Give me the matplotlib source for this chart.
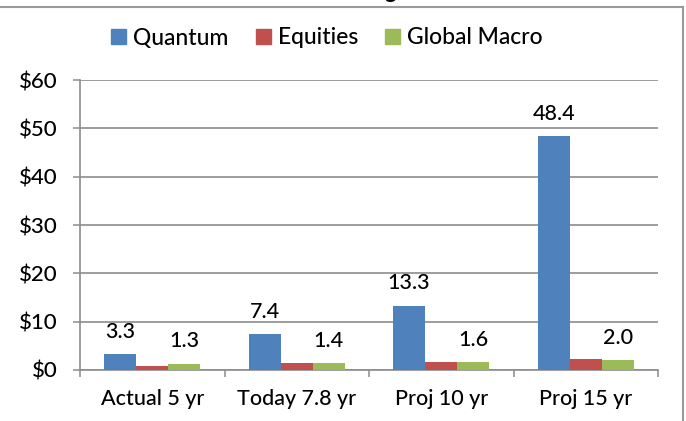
import matplotlib
matplotlib.use('Agg')
import matplotlib.pyplot as plt
from matplotlib.lines import Line2D
import numpy as np

plt.rcParams['font.family'] = ['Lato', 'DejaVu Sans']
plt.rcParams['font.weight'] = 'medium'

# values
categories = ['Actual 5 yr', 'Today 7.8 yr', 'Proj 10 yr', 'Proj 15 yr']
quantum = [3.3, 7.4, 13.3, 48.4]
equities = [0.9, 1.4, 1.7, 2.3]
global_macro = [1.3, 1.4, 1.6, 2.0]
series_names = ['Quantum', 'Equities', 'Global Macro']
colors = ['#4F81BD', '#C0504D', '#9BBB59']
y_ticks = [0, 10, 20, 30, 40, 50, 60]

fig = plt.figure(figsize=(6.86, 4.21), dpi=100)
ax = fig.add_axes([80 / 686, 1 - 370 / 421, 578 / 686, 290 / 421])

x = np.arange(len(categories))
w = 1 / 4.5
all_series = [quantum, equities, global_macro]
bars = []
for i, vals in enumerate(all_series):
    b = ax.bar(x + (i - 1) * w, vals, w, color=colors[i], zorder=3,
               label=series_names[i])
    bars.append(b)

# labels only on Quantum and Global Macro
for idx in (0, 2):
    for rect, v in zip(bars[idx], all_series[idx]):
        ax.annotate('%.1f' % v, (rect.get_x() + rect.get_width() / 2, v),
                    xytext=(0, 9), textcoords='offset points',
                    ha='center', va='bottom', fontsize=15.5, color='black')

ax.set_xlim(-0.5, len(categories) - 0.5)
ax.set_ylim(0, 60)
ax.set_yticks(y_ticks)
ax.set_yticklabels(['$%d' % t for t in y_ticks])
ax.yaxis.grid(True, color='#8c8c8c', linewidth=1.2, zorder=0)
ax.set_axisbelow(True)

ax.set_xticks(np.arange(len(categories) + 1) - 0.5)
ax.set_xticklabels([])
ax.set_xticks(x, minor=True)
ax.set_xticklabels(categories, minor=True)
ax.tick_params(axis='x', which='major', length=5, color='#8c8c8c', width=1.1)
ax.tick_params(axis='x', which='minor', length=0, pad=14, labelsize=15.5)
ax.tick_params(axis='y', length=5, color='#8c8c8c', width=1.1, pad=11,
               labelsize=16)

for s in ['top', 'right']:
    ax.spines[s].set_visible(False)
ax.spines['left'].set_color('#8c8c8c')
ax.spines['bottom'].set_color('#8c8c8c')
ax.spines['left'].set_linewidth(1.2)
ax.spines['bottom'].set_linewidth(1.2)

handles = [plt.Rectangle((0, 0), 1, 1, color=c) for c in colors]
fig.legend(handles, series_names, loc='center', ncol=3,
           bbox_to_anchor=(327 / 686, 1 - 38 / 421), frameon=False,
           fontsize=16.5, handlelength=0.65, handleheight=0.65,
           handletextpad=0.3, columnspacing=1.2)

# outer chart frame (partly cut off in the picture)
fig.add_artist(Line2D([0, 683 / 686], [1 - 7 / 421, 1 - 7 / 421],
                      transform=fig.transFigure, color='#9a9a9a', linewidth=1.5))
fig.add_artist(Line2D([683 / 686, 683 / 686], [0, 1 - 7 / 421],
                      transform=fig.transFigure, color='#9a9a9a', linewidth=1.5))
# bottom of the cut-off title
fig.text(390 / 686, 1 + 2 / 421, 'g', ha='center', va='baseline',
         fontsize=16, fontweight='bold', color='black')

fig.savefig('out.png', dpi=100)
